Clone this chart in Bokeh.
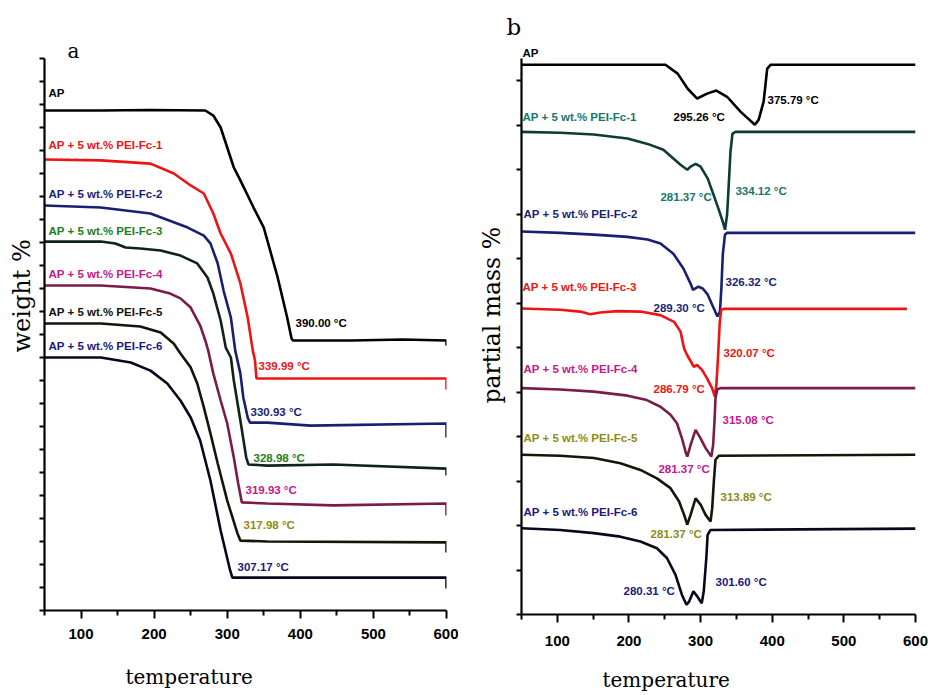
import math
from bokeh.plotting import figure
from bokeh.layouts import row
from bokeh.models import FixedTicker, Label, Range1d, Title
from bokeh.embed import file_html
from bokeh.resources import INLINE

# ---------------- data: panel a (TG, weight %, curves offset) ----------------
series_names = ["AP", "AP + 5 wt.% PEI-Fc-1", "AP + 5 wt.% PEI-Fc-2", "AP + 5 wt.% PEI-Fc-3",
                "AP + 5 wt.% PEI-Fc-4", "AP + 5 wt.% PEI-Fc-5", "AP + 5 wt.% PEI-Fc-6"]
tg_end_temps = [390.00, 339.99, 330.93, 328.98, 319.93, 317.98, 307.17]

ta_ap = [50, 127, 195, 270, 281, 291, 309, 318, 336, 350, 369, 382, 388, 390, 470, 540, 600, 600]
wa_ap = [21.74, 21.74, 21.76, 21.74, 21.52, 21.00, 19.26, 18.70, 17.52, 16.65, 14.48, 12.74, 11.83, 11.74, 11.74, 11.78, 11.74, 11.52]

ta_1 = [50, 127, 195, 227, 250, 268, 281, 291, 305, 318, 328, 335, 338, 340, 400, 600, 600]
wa_1 = [19.61, 19.57, 19.43, 19.00, 18.48, 18.13, 17.26, 16.39, 15.52, 14.22, 12.74, 11.30, 10.87, 10.09, 10.09, 10.09, 9.61]

ta_2 = [50, 127, 195, 246, 268, 277, 287, 295, 305, 311, 318, 322, 328, 331, 355, 414, 600, 600]
wa_2 = [17.61, 17.52, 17.26, 16.65, 16.30, 15.96, 15.09, 13.91, 12.74, 11.30, 10.30, 9.26, 8.39, 8.17, 8.17, 8.04, 8.13, 7.52]

ta_3 = [50, 127, 147, 161, 181, 209, 236, 259, 273, 281, 291, 298, 305, 309, 318, 326, 329, 355, 445, 600, 600]
wa_3 = [16.04, 16.04, 15.96, 15.78, 15.74, 15.65, 15.43, 15.09, 14.48, 13.78, 12.61, 11.43, 11.00, 10.00, 8.26, 6.65, 6.35, 6.30, 6.35, 6.17, 5.87]

ta_4 = [50, 127, 195, 222, 236, 250, 263, 270, 274, 281, 291, 300, 309, 315, 320, 355, 445, 600, 600]
wa_4 = [14.13, 14.13, 14.00, 13.78, 13.57, 13.17, 12.39, 11.74, 11.30, 10.30, 9.13, 8.13, 6.65, 5.52, 4.70, 4.65, 4.57, 4.65, 4.13]

ta_5 = [50, 127, 181, 209, 227, 236, 250, 259, 268, 277, 287, 300, 314, 318, 355, 600, 600]
wa_5 = [12.48, 12.48, 12.35, 12.09, 11.60, 11.17, 10.57, 9.87, 8.83, 7.70, 6.39, 4.78, 3.35, 3.04, 3.00, 2.96, 2.52]

ta_6 = [50, 127, 168, 195, 218, 236, 250, 263, 277, 291, 304, 307, 355, 445, 600, 600]
wa_6 = [11.00, 11.00, 10.78, 10.43, 9.87, 9.13, 8.39, 7.39, 5.65, 3.48, 1.74, 1.43, 1.43, 1.43, 1.43, 0.96]

# ---------------- data: panel b (DTG, partial mass %, curves offset) ----------------
dtg_peak1 = [295.26, 281.37, 289.30, 286.79, 281.37, 281.37, 280.31]
dtg_peak2 = [375.79, 334.12, 326.32, 320.07, 315.08, 313.89, 301.60]

tb_ap = [50, 251, 268, 282, 295.3, 309, 322, 337, 356, 375.8, 381, 388, 393, 398, 600]
mb_ap = [12.36, 12.36, 12.16, 11.82, 11.60, 11.71, 11.78, 11.64, 11.30, 11.01, 11.12, 11.53, 12.27, 12.36, 12.36]

tb_1 = [50, 104, 151, 198, 226, 248, 262, 272, 281.4, 286, 293, 300, 310, 318, 325, 331, 334.1, 337, 339, 341.7, 344.5, 348.7, 600]
mb_1 = [10.85, 10.83, 10.79, 10.70, 10.58, 10.45, 10.25, 10.11, 10.00, 10.07, 10.13, 10.07, 9.80, 9.44, 9.12, 8.83, 8.65, 8.99, 9.57, 10.40, 10.81, 10.85, 10.85]

tb_2 = [50, 104, 151, 198, 226, 244, 262, 276, 286, 289.3, 297, 303, 310, 316, 323.5, 327, 329, 331, 334, 337, 600]
mb_2 = [8.61, 8.58, 8.54, 8.49, 8.43, 8.34, 8.11, 7.78, 7.44, 7.30, 7.37, 7.33, 7.19, 6.97, 6.70, 6.81, 7.33, 8.09, 8.54, 8.58, 8.58]

tb_3 = [50, 104, 132, 146, 160, 184, 216, 244, 263, 272, 277, 281, 290.5, 295, 302, 309, 316, 320, 322, 324, 325.4, 326.8, 328.8, 332.4, 588]
mb_3 = [6.88, 6.85, 6.81, 6.75, 6.79, 6.82, 6.81, 6.73, 6.58, 6.36, 5.98, 5.84, 5.57, 5.61, 5.50, 5.31, 5.09, 4.90, 5.16, 5.69, 6.13, 6.58, 6.85, 6.87, 6.87]

tb_4 = [50, 104, 151, 198, 225, 244, 258, 267, 274, 279, 281.4, 286, 293, 300, 307, 315, 317.5, 319.4, 320.8, 323.1, 327.8, 600]
mb_4 = [5.09, 5.06, 5.01, 4.92, 4.82, 4.67, 4.49, 4.30, 3.96, 3.66, 3.55, 3.81, 4.15, 3.96, 3.74, 3.55, 3.81, 4.34, 4.86, 5.06, 5.09, 5.09]

tb_5 = [50, 104, 151, 188, 216, 239, 258, 270, 277, 281.4, 286, 293, 300, 307, 313.9, 316.2, 318.5, 320.8, 325.4, 600]
mb_5 = [3.59, 3.57, 3.52, 3.40, 3.25, 3.06, 2.84, 2.54, 2.24, 2.02, 2.24, 2.61, 2.47, 2.24, 2.09, 2.39, 2.99, 3.48, 3.57, 3.59]

tb_6 = [50, 104, 151, 188, 216, 239, 253, 265, 274, 280.3, 284, 290, 295.7, 301.6, 304.4, 308, 309.8, 313.8, 600]
mb_6 = [1.94, 1.90, 1.83, 1.75, 1.64, 1.49, 1.27, 0.89, 0.44, 0.22, 0.29, 0.52, 0.40, 0.25, 0.52, 1.27, 1.79, 1.90, 1.93]

x_ticks = [100, 200, 300, 400, 500, 600]
x_minor = [50, 150, 250, 350, 450, 550]

# ---------------- styling ----------------
SANS = "Liberation Sans"
SERIF = "DejaVu Serif"
LBL = "11.5px"


def fmt(t):
    return f"{t:.2f} \u00b0C"


def base_fig(frame_w, frame_h, left, right, top, bottom, ymax, yticks, standoff):
    p = figure(frame_width=frame_w, frame_height=frame_h,
               min_border_left=left, min_border_right=right,
               min_border_top=top, min_border_bottom=bottom,
               x_range=Range1d(50, 600), y_range=Range1d(0, ymax),
               output_backend="svg", toolbar_location=None)
    p.outline_line_color = None
    p.grid.visible = False
    p.background_fill_color = "white"
    p.border_fill_color = "white"
    xa = p.xaxis[0]
    xa.ticker = FixedTicker(ticks=x_ticks, minor_ticks=x_minor)
    xa.axis_line_width = 2.2
    xa.major_tick_line_width = 2
    xa.minor_tick_line_width = 2
    xa.major_tick_out = 8
    xa.major_tick_in = 0
    xa.minor_tick_out = 5
    xa.minor_tick_in = 0
    xa.major_label_text_font = SANS
    xa.major_label_text_font_style = "bold"
    xa.major_label_text_font_size = "15px"
    xa.major_label_text_color = "black"
    xa.major_label_standoff = standoff
    ya = p.yaxis[0]
    ya.ticker = FixedTicker(ticks=yticks, minor_ticks=[])
    ya.major_label_overrides = {t: "" for t in yticks}
    ya.axis_line_width = 2.2
    ya.major_tick_line_width = 2
    ya.major_tick_out = 5
    ya.major_tick_in = 0
    ya.major_label_standoff = 0
    return p


def add_label(p, x, y, text, color, size=LBL):
    p.add_layout(Label(x=x, y=y, text=text, text_color=color, text_font=SANS,
                       text_font_style="bold", text_font_size=size,
                       text_align="left", text_baseline="middle"))


def add_title(p, side, text, size, offset, standoff, font=SERIF, style="normal"):
    p.add_layout(Title(text=text, align="left", offset=offset, standoff=standoff,
                       text_font=font, text_font_size=size, text_font_style=style,
                       text_color="black"), side)


# ---------------- panel a ----------------
pa = base_fig(402, 552, 44, 12, 58, 85, 24, list(range(0, 25)), 10)

a_lines = [(ta_ap, wa_ap, "#000000"), (ta_1, wa_1, "#ee1414"), (ta_2, wa_2, "#1b1f70"),
           (ta_3, wa_3, "#0f2418"), (ta_4, wa_4, "#7a1c48"), (ta_5, wa_5, "#15150a"),
           (ta_6, wa_6, "#08081a")]
for xs, ys, c in a_lines:
    pa.line(xs, ys, line_color=c, line_width=2.6)

a_name_colors = ["#000000", "#ee1414", "#1b1f78", "#1e7d1e", "#c4188c", "#111111", "#1a1a80"]
a_name_y = [22.48, 20.26, 18.13, 16.52, 14.65, 13.0, 11.52]
for name, c, y in zip(series_names, a_name_colors, a_name_y):
    add_label(pa, 55.5, y, name, c)

a_temp_colors = ["#000000", "#ee1414", "#1b1f78", "#1e7d1e", "#c4188c", "#8c8c14", "#1a1a80"]
a_temp_pos = [(393.4, 12.48), (342.8, 10.65), (331.9, 8.61), (336.0, 6.65),
              (325.0, 5.22), (322.3, 3.70), (314.1, 1.87)]
for t, c, (x, y) in zip(tg_end_temps, a_temp_colors, a_temp_pos):
    add_label(pa, x, y, fmt(t), c)

add_title(pa, "above", "a", "20px", 23, -8)
add_title(pa, "left", "weight %", "24px", 258, 8)
add_title(pa, "below", "temperature", "20px", 81, 42)

# ---------------- panel b ----------------
pb = base_fig(394, 556, 63, 13, 57, 82, 12.5, list(range(0, 13)), 13)

b_lines = [(tb_ap, mb_ap, "#000000"), (tb_1, mb_1, "#103a36"), (tb_2, mb_2, "#1b1f70"),
           (tb_3, mb_3, "#ee1414"), (tb_4, mb_4, "#7a1c48"), (tb_5, mb_5, "#15150a"),
           (tb_6, mb_6, "#08081a")]
for xs, ys, c in b_lines:
    pb.line(xs, ys, line_color=c, line_width=2.6)

b_colors = ["#000000", "#17766b", "#1b1f78", "#ee1414", "#c4188c", "#8c8c14", "#1a1a80"]
b_name_pos = [(51.4, 12.65), (51.4, 11.19), (52.8, 9.01), (51.4, 7.37),
              (52.8, 5.51), (52.8, 3.96), (52.8, 2.31)]
b_p1_pos = [(262.2, 11.19), (244.0, 9.39), (234.3, 6.88), (234.3, 5.06),
            (241.2, 3.28), (230.1, 1.80), (192.4, 0.52)]
b_p2_pos = [(393.4, 11.57), (348.7, 9.51), (334.8, 7.48), (332.0, 5.87),
            (330.6, 4.38), (327.8, 2.65), (320.8, 0.74)]
for i in range(7):
    if i > 0:
        add_label(pb, b_name_pos[i][0], b_name_pos[i][1], series_names[i], b_colors[i])
    add_label(pb, b_p1_pos[i][0], b_p1_pos[i][1], fmt(dtg_peak1[i]), b_colors[i])
    add_label(pb, b_p2_pos[i][0], b_p2_pos[i][1], fmt(dtg_peak2[i]), b_colors[i])

# "AP" sits just above the top of the axis in panel b
add_title(pb, "above", series_names[0], LBL, 1, 0, font=SANS, style="bold")
add_title(pb, "above", "b", "23px", -15, 9)
add_title(pb, "left", "partial mass %", "23.5px", 211, 22)
add_title(pb, "below", "temperature", "20px", 81, 34)

layout = row(pa, pb)
open("out.html", "w").write(file_html(layout, INLINE))
